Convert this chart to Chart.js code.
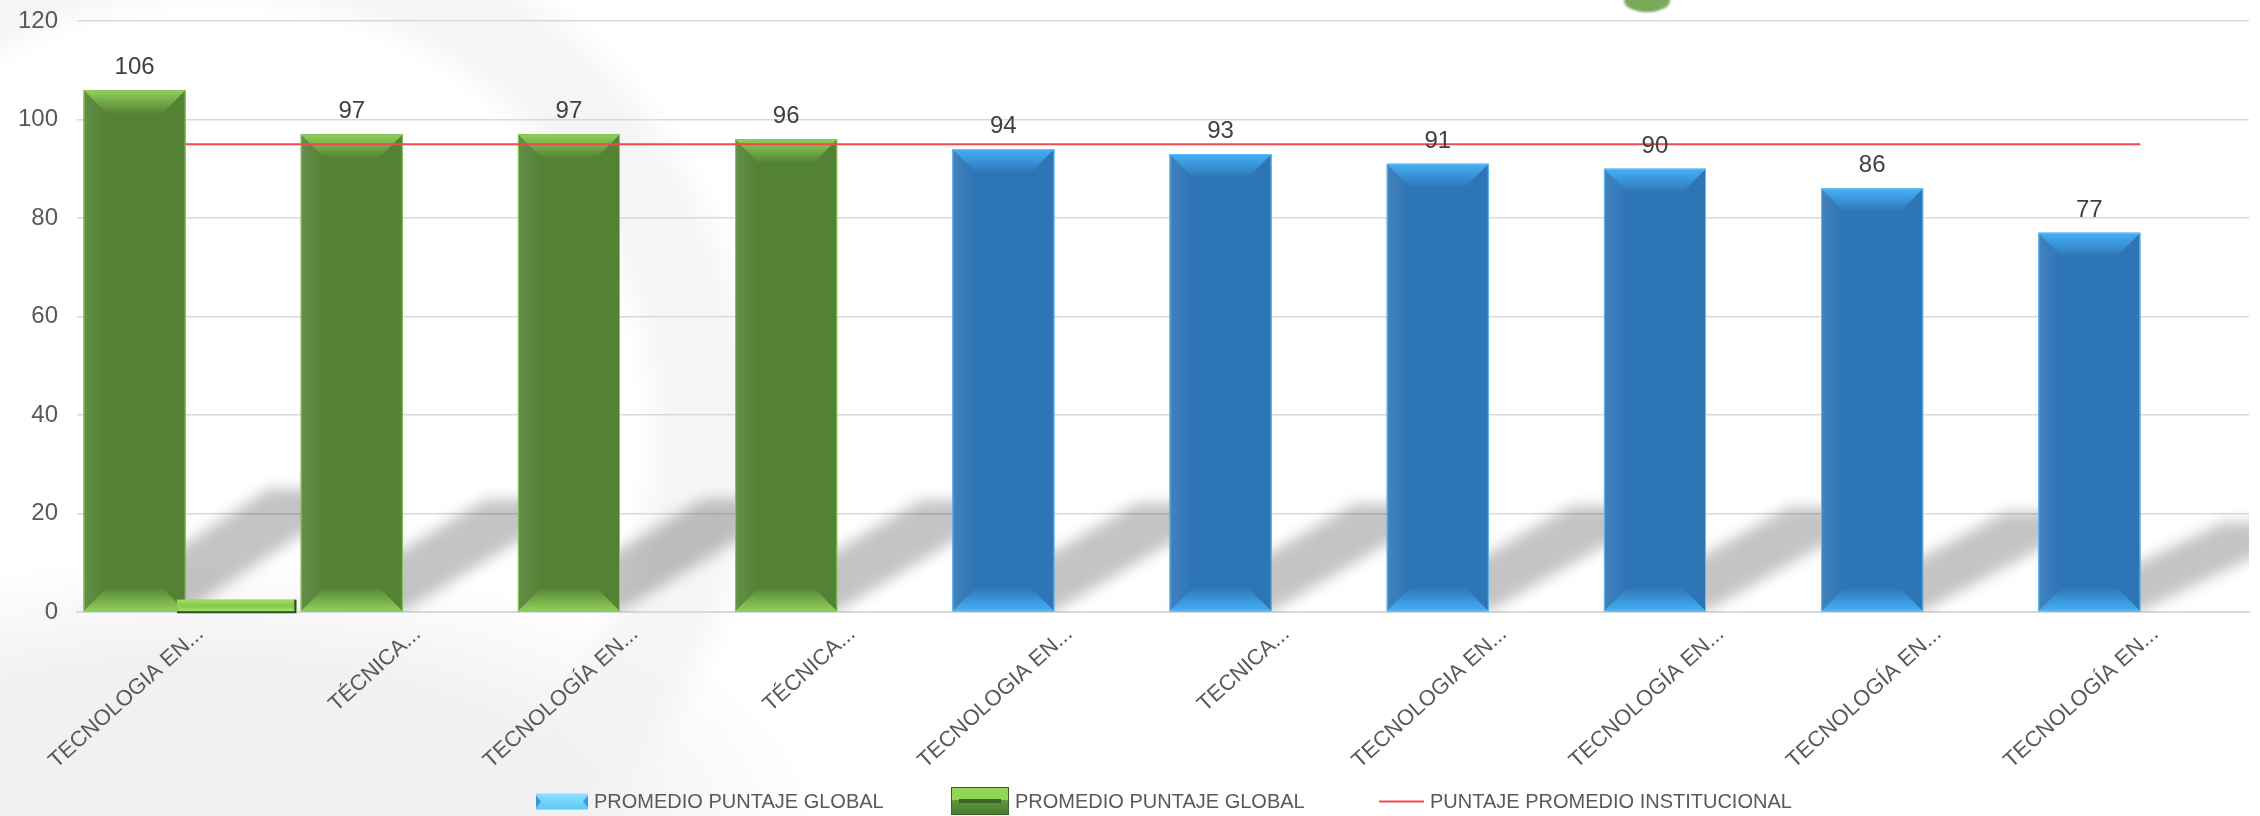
<!DOCTYPE html>
<html lang="es">
<head>
  <meta charset="UTF-8" />
  <title>Promedio puntaje global por programa</title>

  <script src="https://cdn.jsdelivr.net/npm/chart.js"></script>

  <style>
    html, body {
      margin: 0;
      padding: 0;
      background: #ffffff;
    }

    .wrap {
      position: relative;
      width: 2260px;
      height: 816px;
      overflow: hidden;
      background: #ffffff;
      font-family: 'Liberation Sans', Arial, sans-serif;
    }

    /* faint watermark behind the chart */
    .deco {
      position: absolute;
      left: 0;
      top: 0;
      width: 2260px;
      height: 816px;
      pointer-events: none;
      background:
        radial-gradient(ellipse 620px 260px at 200px 816px, #f1f1f4 0, #f1f1f4 60%, rgba(241,241,244,0) 100%),
        radial-gradient(circle at 216px 432px, rgba(245,245,247,0) 0, rgba(245,245,247,0) 420px, #f5f5f7 455px, #f5f5f7 515px, rgba(245,245,247,0) 555px);
    }

    .blob {
      position: absolute;
      left: 1624px;
      top: -10px;
      width: 46px;
      height: 22px;
      border-radius: 50%;
      background: #79aa5c;
      filter: blur(1px);
    }

    canvas#chart {
      position: absolute;
      left: 0;
      top: 0;
    }

    .legend-item {
      position: absolute;
      top: 801px;
      transform: translateY(-50%);
      display: flex;
      align-items: center;
      gap: 6px;
      font-size: 20px;
      color: #595959;
      white-space: nowrap;
    }

    .legend-item canvas {
      display: block;
    }
  </style>
</head>
<body>
  <div class="wrap" id="wrap">
    <div class="deco"></div>
    <div class="blob"></div>
    <canvas id="chart" width="2260" height="816"></canvas>
  </div>

  <script>
    // === Datos ===
    const programas = [
      'TECNOLOGIA EN...', 'TÉCNICA...', 'TECNOLOGÍA EN...', 'TÉCNICA...', 'TECNOLOGIA EN...',
      'TECNICA...', 'TECNOLOGIA EN...', 'TECNOLOGÍA EN...', 'TECNOLOGÍA EN...', 'TECNOLOGÍA EN...'
    ];
    const promedioGlobal = [106, 97, 97, 96, 94, 93, 91, 90, 86, 77];
    const promedioGlobal2 = [2.5, null, null, null, null, null, null, null, null, null];
    const promedioInstitucional = [95, 95, 95, 95, 95, 95, 95, 95, 95, 95];
    const nombresSeries = ['PROMEDIO PUNTAJE GLOBAL', 'PROMEDIO PUNTAJE GLOBAL', 'PUNTAJE PROMEDIO INSTITUCIONAL'];

    // === Estilos ===
    const FONT = "'Liberation Sans', Arial, sans-serif";
    const VERDES = 4; // los primeros programas van en verde
    const verde = { main: '#548235', light: '#90d15a', edge: '#86c95a' };
    const azul = { main: '#2e75b6', light: '#45b0f7', edge: '#62bdf2' };
    const verdeClaro = { main: '#86c94c', light: '#a2e062', edge: null };
    const rojo = '#f04a4a';

    Chart.defaults.font.family = FONT;

    // === Iconos de la leyenda ===
    function iconoAzul() {
      const c = document.createElement('canvas');
      c.width = 52; c.height = 16;
      const g = c.getContext('2d');
      const gr = g.createLinearGradient(0, 0, 0, 16);
      gr.addColorStop(0, '#8fe0ff');
      gr.addColorStop(1, '#5cc8f6');
      g.fillStyle = gr;
      g.fillRect(0, 0, 52, 16);
      g.fillStyle = '#3596de';
      g.beginPath(); g.moveTo(0, 2); g.lineTo(5, 8); g.lineTo(0, 14); g.closePath(); g.fill();
      g.beginPath(); g.moveTo(52, 2); g.lineTo(47, 8); g.lineTo(52, 14); g.closePath(); g.fill();
      return c;
    }

    function iconoVerde() {
      const c = document.createElement('canvas');
      c.width = 58; c.height = 28;
      const g = c.getContext('2d');
      g.fillStyle = '#93d653';
      g.fillRect(0, 0, 58, 28);
      const gr = g.createLinearGradient(0, 12, 0, 28);
      gr.addColorStop(0, '#5f9b3c');
      gr.addColorStop(1, '#4c7a30');
      g.fillStyle = gr;
      g.fillRect(0, 13, 58, 15);
      g.fillStyle = '#3b6327';
      g.fillRect(8, 12, 42, 4);
      g.strokeStyle = '#3d5f2a';
      g.lineWidth = 1;
      g.strokeRect(0.5, 0.5, 57, 27);
      return c;
    }

    function iconoLinea() {
      const c = document.createElement('canvas');
      c.width = 45; c.height = 4;
      const g = c.getContext('2d');
      g.fillStyle = rojo;
      g.fillRect(0, 1, 45, 2);
      return c;
    }

    // leyenda en HTML bajo el grafico
    const leyendaX = [536, 951, 1379];
    const iconos = [iconoAzul, iconoVerde, iconoLinea];
    nombresSeries.forEach((nombre, i) => {
      const item = document.createElement('div');
      item.className = 'legend-item';
      item.style.left = leyendaX[i] + 'px';
      item.appendChild(iconos[i]());
      const t = document.createElement('span');
      t.textContent = nombre;
      item.appendChild(t);
      document.getElementById('wrap').appendChild(item);
    });

    // === Plugins de dibujo ===
    const sombras = {
      id: 'sombras',
      beforeDatasetsDraw(chart) {
        const { ctx, chartArea } = chart;
        const meta = chart.getDatasetMeta(0);
        ctx.save();
        ctx.beginPath();
        ctx.rect(chartArea.left, chartArea.top, chartArea.right - chartArea.left, chartArea.bottom - chartArea.top);
        ctx.clip();
        ctx.filter = 'blur(7px)';
        ctx.fillStyle = 'rgba(0,0,0,0.23)';
        meta.data.forEach(el => {
          const { x, y, base, width } = el.getProps(['x', 'y', 'base', 'width'], true);
          const L = x - width / 2, R = x + width / 2;
          const sh = 0.235 * (base - y);
          const k = 185;
          ctx.beginPath();
          ctx.moveTo(L, base);
          ctx.lineTo(R, base);
          ctx.lineTo(R + k, base - sh);
          ctx.lineTo(L + k, base - sh);
          ctx.closePath();
          ctx.fill();
        });
        ctx.restore();
      }
    };

    function bisel(ctx, el, col) {
      const { x, y, base, width } = el.getProps(['x', 'y', 'base', 'width'], true);
      const L = x - width / 2, R = x + width / 2;
      const T = Math.min(y, base), B = Math.max(y, base);
      const d = Math.min(24, (B - T) / 2, width / 2);
      if (d <= 0) return;

      // franja izquierda algo mas clara
      let g = ctx.createLinearGradient(L, 0, L + 22, 0);
      g.addColorStop(0, 'rgba(255,255,255,0.10)');
      g.addColorStop(1, 'rgba(255,255,255,0)');
      ctx.fillStyle = g;
      ctx.fillRect(L, T, 22, B - T);

      // bisel superior
      g = ctx.createLinearGradient(0, T, 0, T + d);
      g.addColorStop(0, col.light);
      g.addColorStop(1, col.main);
      ctx.fillStyle = g;
      ctx.beginPath();
      ctx.moveTo(L, T); ctx.lineTo(R, T); ctx.lineTo(R - d, T + d); ctx.lineTo(L + d, T + d);
      ctx.closePath();
      ctx.fill();

      // bisel inferior
      g = ctx.createLinearGradient(0, B, 0, B - d);
      g.addColorStop(0, col.light);
      g.addColorStop(1, col.main);
      ctx.fillStyle = g;
      ctx.beginPath();
      ctx.moveTo(L, B); ctx.lineTo(R, B); ctx.lineTo(R - d, B - d); ctx.lineTo(L + d, B - d);
      ctx.closePath();
      ctx.fill();

      if (col.edge) {
        // borde claro
        ctx.strokeStyle = col.edge;
        ctx.lineWidth = 1;
        ctx.strokeRect(L + 0.5, T + 0.5, width - 1, B - T - 1);
      } else {
        // barra pequeña: borde oscuro abajo y a la derecha
        ctx.strokeStyle = '#2f4a22';
        ctx.lineWidth = 2;
        ctx.beginPath();
        ctx.moveTo(L, B + 1); ctx.lineTo(R - 1, B + 1); ctx.lineTo(R - 1, T);
        ctx.stroke();
      }
    }

    const biseles = {
      id: 'biseles',
      afterDatasetDraw(chart, args) {
        if (args.index !== 0) return;
        const ctx = chart.ctx;
        ctx.save();
        args.meta.data.forEach((el, i) => {
          bisel(ctx, el, i < VERDES ? verde : azul);
        });
        // la segunda serie se pinta encima de la primera
        const meta2 = chart.getDatasetMeta(1);
        meta2.controller.draw();
        meta2.data.forEach((el, i) => {
          if (promedioGlobal2[i] != null) bisel(ctx, el, verdeClaro);
        });
        ctx.restore();
      }
    };

    const etiquetas = {
      id: 'etiquetas',
      afterDatasetsDraw(chart) {
        const { ctx } = chart;
        const meta = chart.getDatasetMeta(0);
        ctx.save();
        ctx.font = '24px ' + FONT;
        ctx.fillStyle = '#404040';
        ctx.textAlign = 'center';
        ctx.textBaseline = 'alphabetic';
        meta.data.forEach((el, i) => {
          ctx.fillText(String(promedioGlobal[i]), el.x, el.y - 16);
        });
        ctx.restore();
      }
    };

    // === Grafico ===
    const ctx = document.getElementById('chart').getContext('2d');
    const chart = new Chart(ctx, {
      type: 'bar',
      data: {
        labels: programas,
        datasets: [
          {
            label: nombresSeries[0],
            data: promedioGlobal,
            backgroundColor: promedioGlobal.map((_, i) => i < VERDES ? verde.main : azul.main),
            borderWidth: 0,
            categoryPercentage: 0.94,
            barPercentage: 1,
            order: 0
          },
          {
            label: nombresSeries[1],
            data: promedioGlobal2,
            backgroundColor: verdeClaro.main,
            borderWidth: 0,
            categoryPercentage: 0.94,
            barPercentage: 1.17,
            order: 0
          },
          {
            type: 'line',
            label: nombresSeries[2],
            data: promedioInstitucional,
            borderColor: rojo,
            borderWidth: 2,
            pointRadius: 0,
            fill: false,
            order: -1
          }
        ]
      },
      options: {
        responsive: false,
        animation: false,
        events: [],
        layout: {
          padding: { left: 0, right: 11, top: 0, bottom: 0 }
        },
        scales: {
          x: {
            offset: true,
            grid: { display: false },
            border: { display: true, color: '#d9d9d9', width: 2 },
            ticks: {
              autoSkip: false,
              minRotation: 42,
              maxRotation: 42,
              padding: 1,
              labelOffset: 15,
              color: '#595959',
              font: { size: 22 }
            },
            afterFit(scale) { scale.height = 204; }
          },
          y: {
            min: 0,
            max: 120,
            border: { display: false },
            grid: { color: '#d9d9d9', lineWidth: 1.5, drawTicks: false },
            ticks: {
              stepSize: 20,
              padding: 19,
              color: '#595959',
              font: { size: 24 }
            },
            afterFit(scale) {
              scale.width = 77;
              scale.paddingTop = 21;
              scale.paddingBottom = 0;
            }
          }
        },
        plugins: {
          tooltip: { enabled: false },
          legend: { display: false }
        }
      },
      plugins: [sombras, biseles, etiquetas]
    });
  </script>
</body>
</html>
